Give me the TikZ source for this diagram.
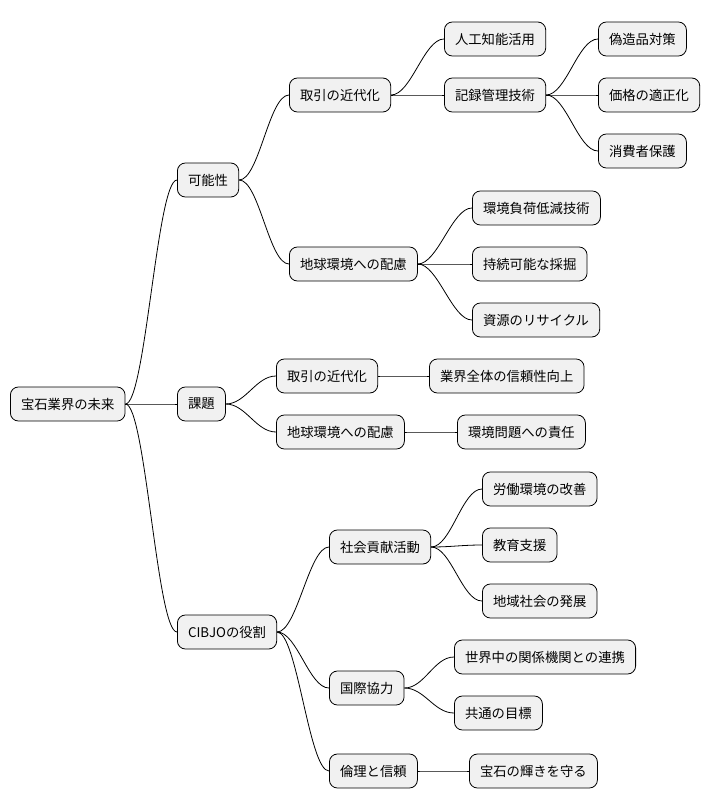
\documentclass[tikz,border=0pt]{standalone}
\usepackage{fontspec}
\setmainfont{Noto Sans CJK JP}
\begin{document}
\begin{tikzpicture}[x=0.75pt,y=-0.75pt,
  box/.style={draw=black,line width=0.6pt,fill={rgb,255:red,241;green,241;blue,241},rounded corners=6pt,anchor=west,minimum height=25.5pt,inner xsep=8pt,font=\fontsize{10}{12}\selectfont},
  edge/.style={line width=0.6pt,black}]
\useasboundingbox (0,0) rectangle (712,809);
\node[box] (r) at (10,404) {宝石業界の未来};
\node[box] (a) at (177,180) {可能性};
\node[box] (b) at (177,404) {課題};
\node[box] (c) at (177,632) {CIBJOの役割};
\node[box] (a1) at (289,95) {取引の近代化};
\node[box] (a2) at (289,264) {地球環境への配慮};
\node[box] (a11) at (444,39) {人工知能活用};
\node[box] (a12) at (444,95) {記録管理技術};
\node[box] (a121) at (598,39) {偽造品対策};
\node[box] (a122) at (598,95) {価格の適正化};
\node[box] (a123) at (598,151) {消費者保護};
\node[box] (a21) at (472,208) {環境負荷低減技術};
\node[box] (a22) at (472,264) {持続可能な採掘};
\node[box] (a23) at (472,320) {資源のリサイクル};
\node[box] (b1) at (276,376) {取引の近代化};
\node[box] (b2) at (276,432) {地球環境への配慮};
\node[box] (b11) at (429,376) {業界全体の信頼性向上};
\node[box] (b21) at (457,432) {環境問題への責任};
\node[box] (c1) at (329,547) {社会貢献活動};
\node[box] (c2) at (329,688) {国際協力};
\node[box] (c3) at (329,771) {倫理と信頼};
\node[box] (c11) at (482,489) {労働環境の改善};
\node[box] (c12) at (482,545) {教育支援};
\node[box] (c13) at (482,601) {地域社会の発展};
\node[box] (c21) at (454,657) {世界中の関係機関との連携};
\node[box] (c22) at (454,713) {共通の目標};
\node[box] (c31) at (469,771) {宝石の輝きを守る};
\foreach \p/\c in {r/a,r/b,r/c,a/a1,a/a2,a1/a11,a1/a12,a12/a121,a12/a122,a12/a123,a2/a21,a2/a22,a2/a23,b/b1,b/b2,b1/b11,b2/b21,c/c1,c/c2,c/c3,c1/c11,c1/c12,c1/c13,c2/c21,c2/c22,c3/c31}
  \draw[edge] (\p.east) .. controls ([xshift=15pt]\p.east) and ([xshift=-15pt]\c.west) .. (\c.west);
\end{tikzpicture}
\end{document}
